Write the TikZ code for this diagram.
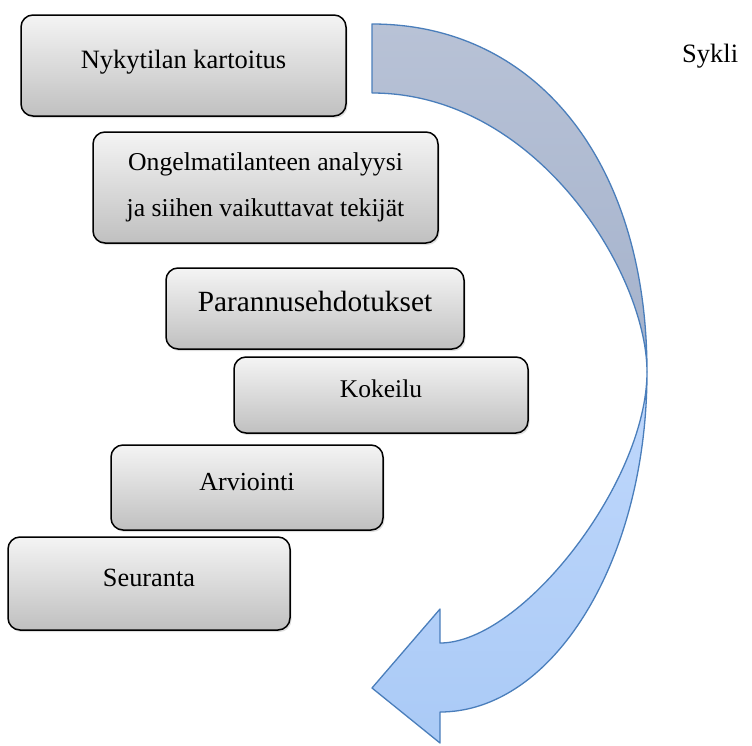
\documentclass[tikz,border=0pt]{standalone}
\usepackage{fontspec}
\setmainfont{Liberation Serif}
\usetikzlibrary{shadows}
\definecolor{arrowline}{RGB}{74,126,187}
\definecolor{upA}{RGB}{184,194,214}
\definecolor{upB}{RGB}{164,178,204}
\definecolor{loA}{RGB}{192,216,252}
\definecolor{loB}{RGB}{170,202,246}
\definecolor{boxtop}{RGB}{244,244,244}
\definecolor{boxbot}{RGB}{192,192,192}
\begin{document}
\begin{tikzpicture}[x=1pt,y=-1pt,
  stepbox/.style={draw=black, line width=1.5pt, rounded corners=12pt,
    top color=boxtop, bottom color=boxbot, inner sep=0pt,
    drop shadow={shadow xshift=1.5pt, shadow yshift=-2pt, opacity=0.25}},
  oneline/.style={text height=20pt, text depth=15pt},
  arrowedge/.style={draw=arrowline, line width=1.3pt, line join=round}]
\useasboundingbox (0,0) rectangle (752,745);

% boxes
\node[stepbox, oneline, minimum width=325pt, minimum height=101pt,
  font=\fontsize{26.5}{30}\selectfont] (b1) at (183.5,65.5) {Nykytilan kartoitus};
\node[stepbox, minimum width=345pt, minimum height=111pt, align=center,
  font=\fontsize{25.7}{46}\selectfont] (b2) at (265.5,187.5)
  {Ongelmatilanteen analyysi\\ja siihen vaikuttavat tekijät};
\node[stepbox, oneline, minimum width=298pt, minimum height=81pt,
  font=\fontsize{29.3}{33}\selectfont] (b3) at (315,308.5) {Parannusehdotukset};
\node[stepbox, oneline, minimum width=294pt, minimum height=76pt,
  font=\fontsize{25.5}{30}\selectfont] (b4) at (381,395) {Kokeilu};
\node[stepbox, oneline, minimum width=272pt, minimum height=85pt,
  font=\fontsize{26}{30}\selectfont] (b5) at (247,487.5) {Arviointi};
\node[stepbox, oneline, minimum width=282pt, minimum height=93pt,
  font=\fontsize{26.3}{30}\selectfont] (b6) at (149,583.5) {Seuranta};

% title
\node[anchor=base west, inner sep=0pt, font=\fontsize{26.5}{30}\selectfont] (sykli) at (682,62) {Sykli};

% curved arrow: upper (back) part
\path[arrowedge, top color=upA, bottom color=upB]
  (372,24) .. controls (537,24) and (647,163) .. (647,372)
  .. controls (647,274) and (537,93) .. (372,93) -- cycle;
% curved arrow: lower (front) part with head
\path[arrowedge, top color=loA, bottom color=loB]
  (647,372) .. controls (647,559) and (554,712) .. (440,712)
  -- (440,743) -- (372,688) -- (440,609) -- (440,643)
  .. controls (522,643) and (647,482) .. (647,372) -- cycle;
\end{tikzpicture}
\end{document}
